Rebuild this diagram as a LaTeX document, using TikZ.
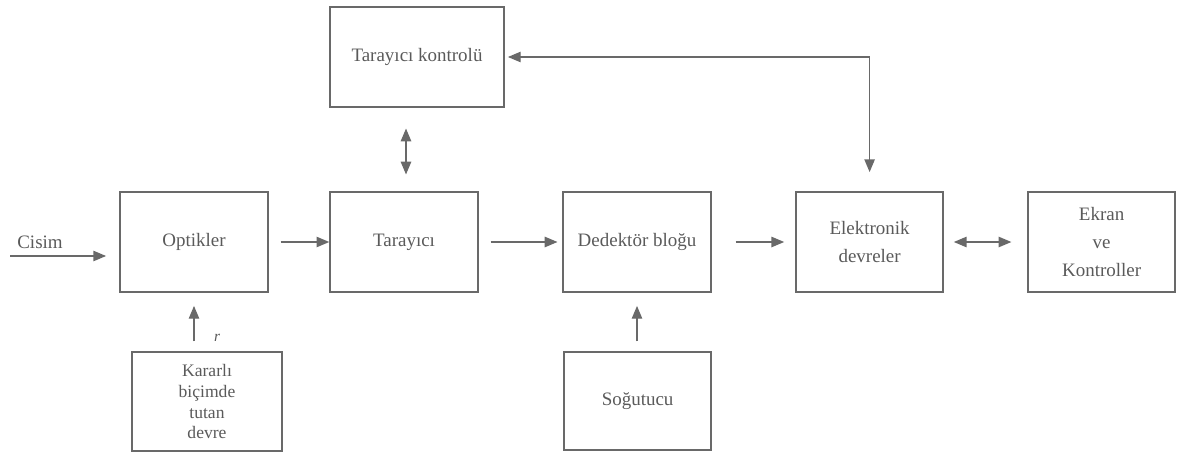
\documentclass[tikz,border=0pt]{standalone}
\usepackage{fontspec}
\setmainfont{Liberation Serif}
\definecolor{inkgray}{RGB}{90, 90, 90}
\definecolor{linegray}{RGB}{105, 105, 105}
\usetikzlibrary{arrows.meta, positioning, calc}

\begin{document}
\begin{tikzpicture}[
    blok/.style={draw=linegray, line width=1pt, minimum width=3.7cm, minimum height=2.5cm,
      text=inkgray, align=center, font=\fontsize{13.5}{20}\selectfont},
    ok/.style={draw=linegray, line width=1pt, -{Triangle[length=0.32cm, width=0.26cm]}},
    ciftok/.style={draw=linegray, line width=1pt, {Triangle[length=0.32cm, width=0.26cm]}-{Triangle[length=0.32cm, width=0.26cm]}}
  ]
  \useasboundingbox (0,0) rectangle (29.5,-11.375);

  % Main chain
  \node[blok] (opt) at (4.85,-6.05) {Optikler};
  \node[blok] (tar) at (10.1,-6.05) {Tarayıcı};
  \node[blok] (ded) at (15.925,-6.05) {Dedektör bloğu};
  \node[blok, minimum width=3.675cm] (elk) at (21.74,-6.05) {Elektronik\\devreler};
  \node[blok, minimum width=3.675cm] (ekr) at (27.54,-6.05) {Ekran\\ve\\Kontroller};

  % Top and bottom blocks
  \node[blok, minimum width=4.35cm] (tk) at (10.425,-1.425) {Tarayıcı kontrolü};
  \node[blok, minimum width=3.75cm, minimum height=2.475cm, font=\fontsize{12.5}{14.8}\selectfont] (kar) at (5.175,-10.04) {Kararlı\\biçimde\\tutan\\devre};
  \node[blok, minimum width=3.675cm, minimum height=2.45cm] (sog) at (15.94,-10.025) {Soğutucu};

  % Input
  \coordinate (cis) at (0.25,-6.4);
  \node[text=inkgray, font=\fontsize{13.5}{16}\selectfont] (cislbl) at (1.0,-6.05) {Cisim};
  \draw[ok, shorten >=0.33cm] (cis) -- (cis -| opt.west);

  % Arrows between blocks
  \draw[ok, shorten <=0.3cm] (opt) -- (tar);
  \draw[ok, shorten <=0.3cm, shorten >=0.12cm] (tar) -- (ded);
  \draw[ok, shorten <=0.6cm, shorten >=0.28cm] (ded) -- (elk);
  \draw[ciftok, shorten <=0.25cm, shorten >=0.4cm] (elk) -- (ekr);
  \draw[ciftok, shorten <=0.52cm, shorten >=0.42cm] (tk.south -| tar.north) ++(0.05,0) coordinate (tkalt) -- (tkalt |- tar.north);
  \draw[ciftok, shorten <=0.08cm, shorten >=0.48cm] (tk.east) -| (elk.north);
  \draw[ok, shorten <=0.25cm, shorten >=0.33cm] (opt.south |- kar.north) -- (opt.south);
  \draw[ok, shorten <=0.25cm, shorten >=0.33cm] (sog.north -| ded.south) -- (ded.south);

  \node[text=inkgray, font=\fontsize{11}{12}\itshape] (rmark) at (5.43,-8.45) {r};
\end{tikzpicture}
\end{document}
